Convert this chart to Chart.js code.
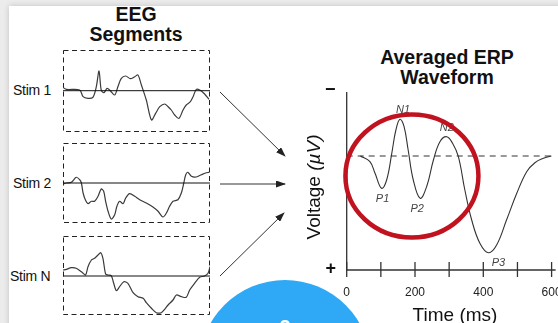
<!DOCTYPE html>
<html>
<head>
<meta charset="utf-8">
<script src="https://cdn.jsdelivr.net/npm/chart.js@4.4.0/dist/chart.umd.min.js"></script>
<style>
  html, body { margin: 0; padding: 0; }
  body { width: 558px; height: 323px; overflow: hidden; background: #ececec; position: relative;
         font-family: "Liberation Sans", Arial, sans-serif; color: #111; }
  #card { position: absolute; left: 9px; top: 6px; right: -10px; bottom: -10px; background: #fff;
          box-shadow: 0 0 6px rgba(0,0,0,0.18); }
  canvas, .txt, svg { position: absolute; }
  .title { font-weight: bold; font-size: 19.5px; text-align: center; width: 200px; }
  .stim { font-size: 14px; line-height: 14px; letter-spacing: -0.3px; }
  .sign { font-weight: bold; font-size: 18px; line-height: 18px; }
  #blue { position: absolute; left: 199px; top: 280px; width: 172px; height: 172px; border-radius: 50%;
          background: #2fa9f5; }
  #blue span { position: absolute; left: 0; width: 172px; top: 36px; text-align: center; color: #fff;
               font-weight: bold; font-size: 20px; }
</style>
</head>
<body>
<div id="card"></div>

<div class="txt title" style="left:36px; top:4px; line-height:20px;">EEG<br>Segments</div>
<div class="txt title" style="left:347px; top:48px; line-height:19.5px;">Averaged ERP<br>Waveform</div>

<div class="txt stim" style="left:13px; top:83px;">Stim 1</div>
<div class="txt stim" style="left:13px; top:176px;">Stim 2</div>
<div class="txt stim" style="left:10px; top:269px;">Stim N</div>

<canvas id="eeg1" width="153" height="88" style="left:60px; top:47px;"></canvas>
<canvas id="eeg2" width="153" height="86" style="left:60px; top:140px;"></canvas>
<canvas id="eeg3" width="153" height="85" style="left:60px; top:233px;"></canvas>

<svg width="558" height="323" style="left:0; top:0;">
  <defs>
    <marker id="head" markerWidth="10" markerHeight="7" refX="9" refY="3.5" orient="auto" markerUnits="userSpaceOnUse">
      <path d="M0,0 L10,3.5 L0,7 Z" fill="#222"/>
    </marker>
  </defs>
  <line x1="220" y1="92" x2="285" y2="156" stroke="#333" stroke-width="1" marker-end="url(#head)"/>
  <line x1="220" y1="184" x2="285" y2="184" stroke="#333" stroke-width="1" marker-end="url(#head)"/>
  <line x1="220" y1="276" x2="284" y2="213" stroke="#333" stroke-width="1" marker-end="url(#head)"/>
</svg>

<canvas id="erp" width="268" height="243" style="left:290px; top:80px;"></canvas>

<div class="txt sign" style="left:325px; top:79.5px;">&minus;</div>
<div class="txt sign" style="left:325.5px; top:259px;">+</div>

<div class="txt" style="left:244px; top:176.5px; width:140px; height:20px; line-height:20px; font-size:19px; text-align:center; transform:rotate(-90deg);">Voltage <i>(µV)</i></div>
<div class="txt" style="left:355px; top:304.5px; width:200px; font-size:19px; line-height:19px; text-align:center;">Time (ms)</div>

<div id="blue"><span>2</span></div>

<script>
// single trials (time in ms, amplitude in arbitrary units, + = up)
const stim1Times = [0, 14, 68, 82, 102, 122, 136, 147, 156, 167, 180, 193, 211, 224, 238, 256, 275, 293, 306, 320, 340, 361, 378, 395, 415, 429, 442, 456, 473, 490, 503, 520, 531, 544, 558, 578, 596];
const stim1Values = [3.3, 1.3, 0.7, -6, -7.7, -6.7, 4, 19.7, 0.7, -2, 2.3, 0, -4.3, 4, 12.3, 14.7, 12, 14, 15.7, 5.7, -9.3, -29.3, -22.7, -16, -13.3, -16, -19.3, -24.3, -27.7, -19.3, -14.3, -11, -6, 1.3, 0.7, -3.3, -8.7];

const stim2Times = [0, 14, 34, 54, 68, 75, 82, 92, 102, 116, 129, 143, 156, 166, 174, 184, 197, 211, 220, 231, 245, 256, 272, 293, 313, 340, 367, 388, 408, 422, 435, 449, 469, 483, 493, 501, 510, 524, 544, 565, 582, 596];
const stim2Values = [-1, 0, 0.7, 5.7, 3.3, 0, -10, -17.3, -20.7, -18.3, -18.3, -13.3, -6, -8.3, -18.3, -28.3, -36, -31.7, -23.3, -18.3, -20.7, -15, -10.7, -13.3, -16.7, -20, -24, -28.3, -34, -30, -23.3, -18.3, -16.7, -10, 0, 8.3, 10.7, 6.7, 6, 8.3, 10, 10.7];

const stimNTimes = [0, 14, 34, 54, 75, 92, 102, 116, 129, 143, 154, 163, 174, 184, 197, 207, 218, 231, 248, 265, 286, 306, 327, 340, 361, 381, 401, 415, 429, 449, 463, 483, 503, 517, 537, 558, 578, 592, 600];
const stimNValues = [6, 6.7, 8.3, 7.7, 4.3, 1, 9.3, 16, 17.7, 21, 23.3, 17.7, 2, 1, 0.3, -7.3, -14.7, -10.7, -5.7, -7.3, -16.7, -20.7, -22.3, -26.7, -32.3, -36.7, -36.7, -33.3, -29, -24, -19, -20.7, -21.3, -14, -7.3, -1.3, 0, 2.7, 9.3];

// averaged ERP (time in ms, voltage in µV, negative plotted up)
const erpTimes = [40, 68, 83, 102, 117, 132, 144, 156, 168, 180, 195, 215, 234, 254, 273, 293, 310, 327, 346, 366, 390, 415, 439, 468, 498, 527, 551, 576, 600];
const erpValues = [0, 0.57, 1.73, 3.23, 2.4, -0.27, -2.6, -3.67, -2.93, -0.6, 2.4, 4.23, 3.07, 0.4, -1.43, -1.93, -1.27, 0.07, 3.4, 6.4, 8.73, 9.67, 8.9, 6.4, 3.73, 1.57, 0.67, 0.23, 0];

const peakNames = ["P1", "N1", "P2", "N2", "P3"];
const peakTimes = [102, 156, 215, 293, 415];

const timeTicks = [0, 100, 200, 300, 400, 500, 600];
const timeTickLabels = [0, 200, 400, 600];

Chart.defaults.font.family = '"Liberation Sans", Arial, sans-serif';

const boxPlugin = {
  id: "box",
  beforeDatasetsDraw(chart) {
    const a = chart.chartArea;
    const ctx = chart.ctx;
    ctx.save();
    ctx.strokeStyle = "#222";
    ctx.lineWidth = 1;
    ctx.setLineDash([5, 3.5]);
    ctx.strokeRect(Math.round(a.left) + 0.5, Math.round(a.top) + 0.5, Math.round(a.right - a.left) - 1, Math.round(a.bottom - a.top) - 1);
    ctx.restore();
  }
};

function eegChart(id, times, values, yMin, yMax) {
  return new Chart(document.getElementById(id), {
    type: "line",
    data: {
      datasets: [
        { data: [{ x: 0, y: 0 }, { x: 600, y: 0 }], borderColor: "#111", borderWidth: 1, pointRadius: 0 },
        { data: times.map((t, i) => ({ x: t, y: values[i] })), borderColor: "#3a3a3a", borderWidth: 1.2, pointRadius: 0, tension: 0.3 }
      ]
    },
    options: {
      responsive: false,
      animation: false,
      layout: { padding: 3 },
      plugins: { legend: { display: false }, tooltip: { enabled: false } },
      scales: {
        x: { type: "linear", min: 0, max: 600, display: false },
        y: { min: yMin, max: yMax, display: false }
      }
    },
    plugins: [boxPlugin]
  });
}

eegChart("eeg1", stim1Times, stim1Values, -41.3, 40.7);
eegChart("eeg2", stim2Times, stim2Values, -40, 40);
eegChart("eeg3", stimNTimes, stimNValues, -39, 40);

const labelOffsets = [[1, 11], [3, -9], [-3, 11], [0, -9], [10, 10]];

const erpDecor = {
  id: "erpDecor",
  afterDraw(chart) {
    const ctx = chart.ctx;
    const a = chart.chartArea;
    const xs = chart.scales.x;
    const ys = chart.scales.y;
    ctx.save();
    ctx.strokeStyle = "#333";
    ctx.lineWidth = 1.3;
    ctx.beginPath();
    ctx.moveTo(a.left, a.top);
    ctx.lineTo(a.left, a.bottom);
    ctx.lineTo(a.right + 4, a.bottom);
    ctx.stroke();
    timeTicks.forEach(v => {
      const px = xs.getPixelForValue(v);
      ctx.beginPath();
      ctx.moveTo(px, a.bottom - 8);
      ctx.lineTo(px, a.bottom + 7);
      ctx.stroke();
    });
    ctx.fillStyle = "#444";
    ctx.font = 'italic 11px "Liberation Sans", Arial, sans-serif';
    ctx.textAlign = "center";
    ctx.textBaseline = "middle";
    peakNames.forEach((name, i) => {
      const idx = erpTimes.indexOf(peakTimes[i]);
      const px = xs.getPixelForValue(erpTimes[idx]);
      const py = ys.getPixelForValue(erpValues[idx]);
      ctx.fillText(name, px + labelOffsets[i][0], py + labelOffsets[i][1]);
    });
    // highlight ring around the early components
    ctx.strokeStyle = "#c1121f";
    ctx.lineWidth = 4.5;
    ctx.beginPath();
    ctx.ellipse(xs.getPixelForValue(191), ys.getPixelForValue(2), 66.5, 61.5, 0, 0, Math.PI * 2);
    ctx.stroke();
    ctx.restore();
  }
};

new Chart(document.getElementById("erp"), {
  type: "line",
  data: {
    datasets: [
      { data: [{ x: 0, y: 0 }, { x: 600, y: 0 }], borderColor: "#333", borderWidth: 1, borderDash: [6, 5], pointRadius: 0 },
      { data: erpTimes.map((t, i) => ({ x: t, y: erpValues[i] })), borderColor: "#333", borderWidth: 1.1, pointRadius: 0, tension: 0.4 }
    ]
  },
  options: {
    responsive: false,
    animation: false,
    layout: { padding: { left: 56.7, top: 12, right: 6.4, bottom: 0 } },
    plugins: { legend: { display: false }, tooltip: { enabled: false } },
    scales: {
      x: {
        type: "linear", min: 0, max: 600,
        afterBuildTicks: s => { s.ticks = timeTicks.map(v => ({ value: v })); },
        afterFit: s => { s.height = 53; s.paddingLeft = 0; s.paddingRight = 0; },
        ticks: {
          autoSkip: false, maxRotation: 0, padding: 15, color: "#222", font: { size: 12 },
          callback: v => timeTickLabels.includes(v) ? String(v) : ""
        },
        grid: { display: false, drawTicks: false },
        border: { display: false }
      },
      y: { min: -6.4, max: 11.4, reverse: true, display: false }
    }
  },
  plugins: [erpDecor]
});
</script>
</body>
</html>
